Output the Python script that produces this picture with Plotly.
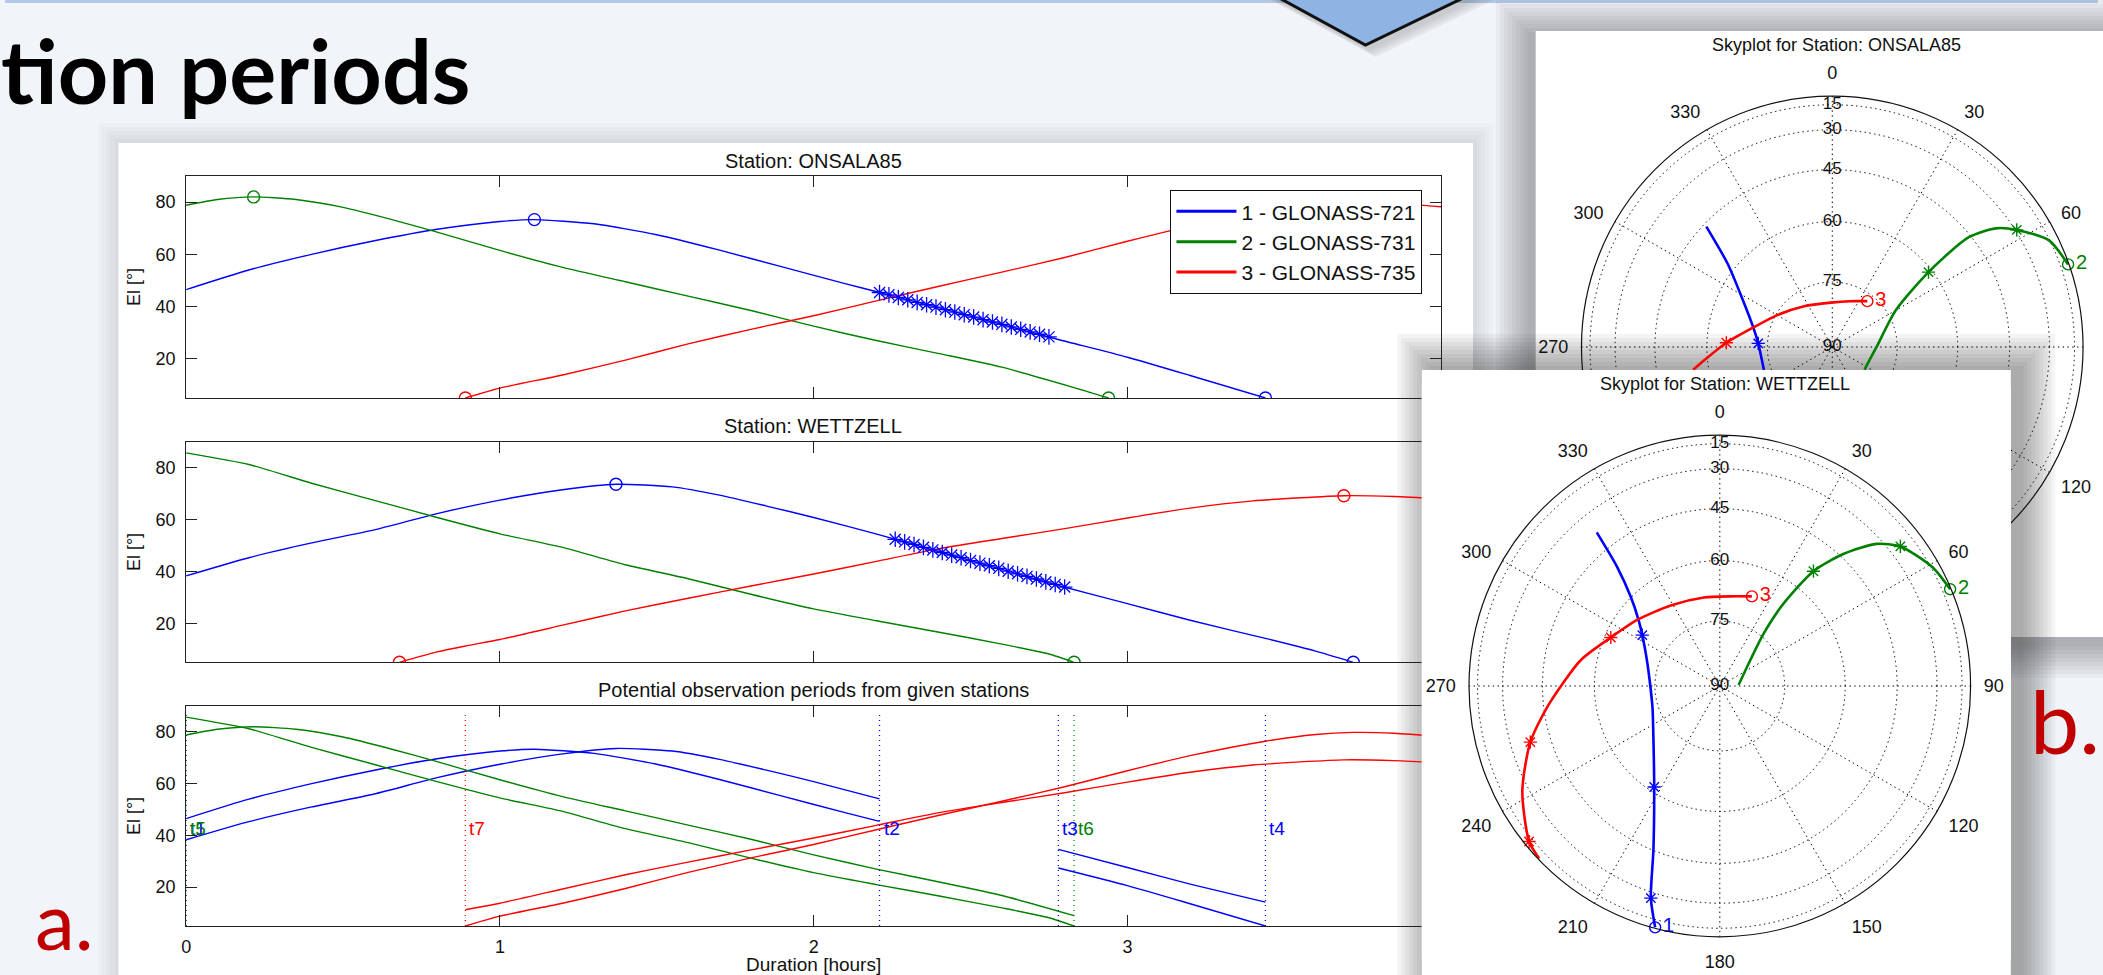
import math
import plotly.graph_objects as go

W, H = 2103, 975
FONT = "Liberation Sans, Arial, Helvetica, sans-serif"
SLIDE_FONT = "Lato, 'Open Sans', sans-serif"
BLUE, GREEN, RED = "#0000ff", "#008000", "#ff0000"
SAT_NAMES = ["1 - GLONASS-721", "2 - GLONASS-731", "3 - GLONASS-735"]

# ---------------- elevation profiles: hours since start / elevation [deg] ----------------
ONS_BLUE_T = [0.0, 0.2, 0.4, 0.6, 0.8, 1.0, 1.11, 1.3, 1.5, 1.7, 1.9, 2.1, 2.21, 2.4, 2.6, 2.78, 3.0, 3.2, 3.44]
ONS_BLUE_EL = [46.5, 54.0, 60.0, 65.2, 69.6, 72.6, 73.3, 71.7, 67.5, 61.6, 55.2, 48.8, 45.4, 39.5, 33.2, 27.4, 20.6, 13.6, 5.0]
ONS_GREEN_T = [0.0, 0.1, 0.215, 0.35, 0.5, 0.65, 0.8, 1.0, 1.2, 1.4, 1.6, 1.8, 2.0, 2.2, 2.4, 2.6, 2.83, 2.94]
ONS_GREEN_EL = [78.8, 81.0, 82.0, 81.0, 78.0, 73.5, 68.5, 61.5, 55.0, 49.5, 44.0, 38.5, 32.5, 27.0, 22.0, 16.8, 9.0, 5.0]
ONS_RED_T = [0.89, 1.0, 1.2, 1.4, 1.6, 1.8, 2.0, 2.2, 2.4, 2.6, 2.8, 3.0, 3.2, 3.44, 3.6, 3.72, 3.85, 4.0]
ONS_RED_EL = [5.0, 8.8, 13.8, 19.5, 25.7, 31.3, 36.5, 42.2, 47.8, 53.2, 58.8, 65.0, 70.8, 76.4, 79.0, 79.8, 79.5, 78.2]

WET_BLUE_T = [0.0, 0.2, 0.4, 0.6, 0.8, 1.0, 1.2, 1.37, 1.55, 1.7, 1.85, 2.0, 2.21, 2.4, 2.6, 2.78, 3.0, 3.2, 3.44, 3.6, 3.72]
WET_BLUE_EL = [38.3, 45.3, 51.0, 56.0, 62.3, 67.5, 71.5, 73.6, 72.6, 69.4, 65.2, 60.8, 54.1, 47.6, 40.8, 34.6, 27.6, 21.2, 14.2, 9.3, 5.0]
WET_GREEN_T = [0.0, 0.2, 0.4, 0.6, 0.8, 1.0, 1.2, 1.4, 1.6, 1.8, 2.0, 2.2, 2.4, 2.6, 2.75, 2.83]
WET_GREEN_EL = [85.7, 81.2, 74.0, 67.4, 60.8, 54.5, 49.3, 42.6, 37.2, 31.2, 25.6, 21.0, 16.6, 12.0, 8.2, 5.0]
WET_RED_T = [0.68, 0.8, 0.89, 1.0, 1.2, 1.4, 1.6, 1.8, 2.0, 2.2, 2.4, 2.6, 2.8, 3.0, 3.2, 3.4, 3.55, 3.69, 3.85, 4.0]
WET_RED_EL = [5.0, 9.0, 11.3, 13.8, 19.3, 24.8, 29.7, 34.4, 39.0, 43.9, 48.8, 52.7, 56.5, 60.6, 64.4, 67.2, 68.4, 69.2, 68.9, 68.0]

# rise / culmination / set epochs marked with circles [hours]
ONS_EVENTS = [[1.11, 3.44], [0.215, 2.94], [0.89, 3.72]]
WET_EVENTS = [[1.37, 3.72], [2.83], [0.68, 3.69]]

# scheduled scans on satellite 1 (asterisks)
ONS_SCAN_T = [2.21, 2.24, 2.27, 2.30, 2.33, 2.36, 2.39, 2.42, 2.45, 2.48, 2.51, 2.54, 2.57, 2.60, 2.63, 2.66, 2.69, 2.72, 2.75]
ONS_SCAN_EL = [45.4, 44.5, 43.5, 42.6, 41.6, 40.7, 39.8, 38.8, 37.9, 36.9, 36.0, 35.0, 34.1, 33.2, 32.2, 31.3, 30.3, 29.4, 28.4]
WET_SCAN_T = [2.26, 2.29, 2.32, 2.35, 2.38, 2.41, 2.44, 2.47, 2.50, 2.53, 2.56, 2.59, 2.62, 2.65, 2.68, 2.71, 2.74, 2.77, 2.80]
WET_SCAN_EL = [52.4, 51.4, 50.4, 49.3, 48.3, 47.3, 46.3, 45.3, 44.2, 43.2, 42.2, 41.2, 40.1, 39.1, 38.1, 37.1, 36.0, 35.0, 34.0]

# common observation windows per satellite [hours]
BLUE_WINDOWS = [(0.0, 2.21), (2.78, 3.44)]
GREEN_WINDOWS = [(0.0, 2.83)]
RED_WINDOWS = [(0.89, 4.0)]

# window boundary epochs
EPOCH_T = [0.0, 2.21, 2.78, 3.44, 0.0, 2.83, 0.89]
EPOCH_LABEL = ["t1", "t2", "t3", "t4", "t5", "t6", "t7"]
EPOCH_SAT = [0, 0, 0, 0, 1, 1, 2]

X_TICKS = [0, 1, 2, 3, 4]
Y_TICKS = [20, 40, 60, 80]

# ---------------- skyplot tracks: azimuth [deg] / elevation [deg] ----------------
WET_BLUE_AZ = [321.3, 319.2, 315.0, 309.0, 303.3, 287.3, 270.4, 251.8, 232.9, 213.0, 202.1, 198.0, 195.0]
WET_BLUE_ELS = [38.3, 51.3, 59.9, 65.4, 68.3, 72.4, 73.9, 73.6, 70.6, 61.3, 45.3, 27.2, 5.0]
WET_GREEN_AZ = [87.0, 49.6, 39.9, 37.7, 39.2, 43.1, 47.8, 52.3, 60.9, 67.2]
WET_GREEN_ELS = [85.7, 80.8, 74.2, 65.5, 53.8, 43.9, 32.5, 24.5, 13.6, 5.0]
WET_RED_AZ = [226.3, 230.8, 242.0, 253.5, 263.7, 280.6, 294.0, 308.9, 328.6, 349.8, 6.7, 19.7]
WET_RED_ELS = [5.0, 11.1, 26.9, 38.0, 46.6, 55.7, 61.6, 65.1, 67.9, 69.0, 68.9, 67.7]

ONS_BLUE_AZ = [313.7, 308.5, 297.6, 283.3, 272.8, 251.5]
ONS_BLUE_ELS = [46.0, 57.8, 66.3, 71.2, 72.8, 73.3]
ONS_GREEN_AZ = [125.1, 122.7, 89.6, 60.0, 52.1, 51.2, 54.0, 57.6, 63.8, 70.7]
ONS_GREEN_ELS = [80.9, 81.0, 79.8, 73.0, 60.9, 45.7, 36.4, 29.4, 15.6, 5.0]
ONS_RED_AZ = [260.7, 264.2, 272.3, 284.5, 300.1, 325.4, 358.2, 21.2, 37.4]
ONS_RED_ELS = [55.8, 59.2, 65.0, 71.3, 75.3, 78.6, 79.8, 78.7, 76.7]

# hourly marks along the tracks (azimuth, elevation)
WET_HOUR_AZ = [[303.3, 213.0, 198.0], [39.2, 52.3], [230.8, 253.5, 294.0]]
WET_HOUR_EL = [[68.3, 61.3, 27.2], [53.8, 24.5], [11.1, 38.0, 61.6]]
ONS_HOUR_AZ = [[272.8], [52.1, 57.6], [272.3]]
ONS_HOUR_EL = [[72.8], [60.9, 29.4], [65.0]]

RING_EL = [15, 30, 45, 60, 75, 90]
AZ_TICKS = [0, 30, 60, 90, 120, 150, 180, 210, 240, 270, 300, 330]
# azimuth labels of the ONSALA window that sit under the WETTZELL window or past the slide edge
ONS_HIDDEN_AZ = (90, 150, 180, 210, 240)


def fx(x):
    return x / W


def fy(y):
    return 1 - y / H


def zen(el):
    """Skyplot radius: projection of elevation onto the horizon plane."""
    return math.cos(math.radians(el))


fig = go.Figure()
COLORS = [BLUE, GREEN, RED]

# ---------------- elevation plots per station ----------------
stations = [
    ("x", "y", [(ONS_BLUE_T, ONS_BLUE_EL), (ONS_GREEN_T, ONS_GREEN_EL), (ONS_RED_T, ONS_RED_EL)],
     ONS_EVENTS, (ONS_SCAN_T, ONS_SCAN_EL)),
    ("x2", "y2", [(WET_BLUE_T, WET_BLUE_EL), (WET_GREEN_T, WET_GREEN_EL), (WET_RED_T, WET_RED_EL)],
     WET_EVENTS, (WET_SCAN_T, WET_SCAN_EL)),
]
for xa, ya, curves, events, scan in stations:
    for k, (T, EL) in enumerate(curves):
        fig.add_trace(go.Scatter(x=T, y=EL, mode="lines", line=dict(color=COLORS[k], width=1.4, shape="spline", smoothing=0.6),
                                 xaxis=xa, yaxis=ya, showlegend=False, hoverinfo="skip"))
        ev_y = [EL[T.index(t)] for t in events[k]]
        fig.add_trace(go.Scatter(x=events[k], y=ev_y, mode="markers",
                                 marker=dict(symbol="circle-open", size=12, color=COLORS[k], line=dict(width=1.4)),
                                 xaxis=xa, yaxis=ya, showlegend=False, hoverinfo="skip"))
    fig.add_trace(go.Scatter(x=scan[0], y=scan[1], mode="markers",
                             marker=dict(symbol="asterisk-open", size=13, color=BLUE, line=dict(width=1.3, color=BLUE)),
                             xaxis=xa, yaxis=ya, showlegend=False, hoverinfo="skip"))

# legend entries
for k in range(3):
    fig.add_trace(go.Scatter(x=[None], y=[None], mode="lines", line=dict(color=COLORS[k], width=3),
                             name=SAT_NAMES[k], xaxis="x", yaxis="y"))

# ---------------- common observation periods ----------------
sub3 = [
    ([(ONS_BLUE_T, ONS_BLUE_EL), (WET_BLUE_T, WET_BLUE_EL)], BLUE_WINDOWS),
    ([(ONS_GREEN_T, ONS_GREEN_EL), (WET_GREEN_T, WET_GREEN_EL)], GREEN_WINDOWS),
    ([(ONS_RED_T, ONS_RED_EL), (WET_RED_T, WET_RED_EL)], RED_WINDOWS),
]
for k, (pair, windows) in enumerate(sub3):
    for T, EL in pair:
        for a, b in windows:
            xs = [t for t in T if a <= t <= b]
            ys = [e for t, e in zip(T, EL) if a <= t <= b]
            fig.add_trace(go.Scatter(x=xs, y=ys, mode="lines", line=dict(color=COLORS[k], width=1.4, shape="spline", smoothing=0.6),
                                     xaxis="x3", yaxis="y3", showlegend=False, hoverinfo="skip"))

EPOCH_LINE_EL = (5, 87)
for t, lab, s in zip(EPOCH_T, EPOCH_LABEL, EPOCH_SAT):
    fig.add_trace(go.Scatter(x=[t, t], y=list(EPOCH_LINE_EL), mode="lines",
                             line=dict(color=COLORS[s], width=1.3, dash="1px,4px"),
                             xaxis="x3", yaxis="y3", showlegend=False, hoverinfo="skip"))

# ---------------- skyplots ----------------
sky = [
    ("polar", [(ONS_BLUE_AZ, ONS_BLUE_ELS), (ONS_GREEN_AZ, ONS_GREEN_ELS), (ONS_RED_AZ, ONS_RED_ELS)],
     ONS_HOUR_AZ, ONS_HOUR_EL, [False, True, True]),
    ("polar3", [(WET_BLUE_AZ, WET_BLUE_ELS), (WET_GREEN_AZ, WET_GREEN_ELS), (WET_RED_AZ, WET_RED_ELS)],
     WET_HOUR_AZ, WET_HOUR_EL, [True, True, True]),
]
for sp, tracks, haz, hel, ends in sky:
    for k, (AZ, EL) in enumerate(tracks):
        fig.add_trace(go.Scatterpolar(r=[zen(e) for e in EL], theta=AZ, mode="lines",
                                      line=dict(color=COLORS[k], width=2.6, shape="spline", smoothing=0.7),
                                      subplot=sp, showlegend=False, hoverinfo="skip"))
        fig.add_trace(go.Scatterpolar(r=[zen(e) for e in hel[k]], theta=haz[k], mode="markers",
                                      marker=dict(symbol="asterisk-open", size=11, color=COLORS[k], line=dict(width=1.4, color=COLORS[k])),
                                      subplot=sp, showlegend=False, hoverinfo="skip"))
        if ends[k]:
            fig.add_trace(go.Scatterpolar(r=[zen(EL[-1])], theta=[AZ[-1]], mode="markers+text", text=[str(k + 1)],
                                          textposition="middle right",
                                          textfont=dict(size=20, color=COLORS[k], family=FONT),
                                          marker=dict(symbol="circle-open", size=11, color=COLORS[k], line=dict(width=1.4)),
                                          subplot=sp, showlegend=False, hoverinfo="skip"))
    fig.add_trace(go.Scatterpolar(r=[zen(e) for e in RING_EL], theta=[0] * len(RING_EL), mode="text",
                                  text=[str(e) for e in RING_EL], textfont=dict(size=17, color="#111", family=FONT),
                                  subplot=sp, showlegend=False, hoverinfo="skip"))

# white sheet of the WETTZELL window, stacked over the ONSALA window
PANEL_W = (1425, 370, 2014, 975)
occ_cx, occ_cy = (PANEL_W[0] + PANEL_W[2]) / 2, (PANEL_W[1] + PANEL_W[3]) / 2
occ_R = min(PANEL_W[2] - PANEL_W[0], PANEL_W[3] - PANEL_W[1]) / 2
side = PANEL_W[2] - PANEL_W[0]
sq_centres = [(occ_cx, PANEL_W[1] + side / 2), (occ_cx, PANEL_W[3] - side / 2)]
occ_r, occ_t = [], []
for cx, cy in sq_centres:
    dx, dy = cx - occ_cx, occ_cy - cy
    occ_r.append(math.hypot(dx, dy) / occ_R)
    occ_t.append(math.degrees(math.atan2(dy, dx)))
fig.add_trace(go.Scatterpolar(r=occ_r, theta=occ_t, mode="markers", cliponaxis=False,
                              marker=dict(symbol="square", size=side, color="white", line=dict(width=0)),
                              subplot="polar2", showlegend=False, hoverinfo="skip"))

# ---------------- layout ----------------
def rect(x0, y0, x1, y1, color):
    return dict(type="rect", xref="paper", yref="paper", x0=fx(x0), x1=fx(x1), y0=fy(y1), y1=fy(y0),
                fillcolor=color, line=dict(width=0), layer="below")


def shadow(box, dx, dy, spreads, alpha):
    x0, y0, x1, y1 = box
    return [rect(x0 + dx - e, y0 + dy - e, x1 + dx + e, y1 + dy + e, f"rgba(40,40,40,{alpha})") for e in spreads]


PANEL_A = (114, 143, 1475, 990)
PANEL_O = (1538, 31, 2120, 637)

shapes = []
shapes.append(rect(0, 0, W, 3, "#b3c8e4"))
# arrow tip at the top
chev = [(1262, -12), (1486, -12), (1367, 45)]
def path(pts, ox=0, oy=0):
    return "M " + " L ".join(f"{fx(x + ox):.5f},{fy(y + oy):.5f}" for x, y in pts) + " Z"
for i, a in enumerate([0.05, 0.05, 0.06, 0.07]):
    shapes.append(dict(type="path", xref="paper", yref="paper", path=path(chev, 4 + 2 * i, 6 + 2 * i),
                       fillcolor=f"rgba(60,60,60,{a})", line=dict(width=0), layer="below"))
shapes.append(dict(type="path", xref="paper", yref="paper", path=path(chev), fillcolor="#8eb4e3",
                   line=dict(color="#111", width=3), layer="below"))
shapes += shadow(PANEL_A, 0, 0, [20, 16, 12, 8, 4], 0.022)
shapes.append(rect(*PANEL_A, "white"))
shapes += shadow(PANEL_O, -4, 5, [36, 32, 28, 24, 20, 16, 12, 8, 4], 0.045)
shapes.append(rect(*PANEL_O, "white"))
shapes += shadow((1425, 370, 2014, 990), 10, 0, [36, 32, 28, 24, 20, 16, 12, 8, 4], 0.05)

ax_common = dict(showline=True, mirror="allticks", linecolor="#222", linewidth=1.2, ticks="inside",
                 ticklen=11, tickwidth=1.2, tickcolor="#222", showgrid=False, zeroline=False,
                 tickfont=dict(size=18, color="#111", family=FONT))

sub_rows = [(176, 398), (441.7, 662.3), (706, 926)]
layout = dict(width=W, height=H, margin=dict(l=0, r=0, t=0, b=0),
              paper_bgcolor="#f1f4f9", plot_bgcolor="white", shapes=shapes,
              showlegend=True,
              legend=dict(x=fx(1424), y=fy(190), xanchor="right", yanchor="top", bgcolor="white",
                          bordercolor="#111", borderwidth=1.2, font=dict(size=21, color="#111", family=FONT),
                          itemwidth=60, tracegroupgap=0))
for i, (top, bot) in enumerate(sub_rows):
    sx = "" if i == 0 else str(i + 1)
    xa = dict(ax_common, domain=[fx(182), fx(1443)], range=[0, 4], tickvals=X_TICKS,
              anchor="y" + sx, showticklabels=(i == 2), ticklabelstandoff=4)
    if i == 2:
        xa["title"] = dict(text="Duration [hours]", font=dict(size=19, color="#111", family=FONT), standoff=2)
    ya = dict(ax_common, domain=[fy(bot), fy(top)], range=[5, 90], tickvals=Y_TICKS, anchor="x" + sx,
              ticklabelstandoff=6,
              title=dict(text="El [°]", font=dict(size=18, color="#111", family=FONT), standoff=10))
    layout["xaxis" + sx] = xa
    layout["yaxis" + sx] = ya


def sky_polar(cx, cy, R, hidden=()):
    return dict(domain=dict(x=[fx(cx - R), fx(cx + R)], y=[fy(cy + R), fy(cy - R)]),
                bgcolor="rgba(0,0,0,0)",
                radialaxis=dict(range=[0, 1], tickvals=[zen(e) for e in RING_EL[:-1]], showticklabels=False,
                                ticks="", showline=False, showgrid=True, gridcolor="#000",
                                griddash="1.4px,3.4px", gridwidth=1.3),
                angularaxis=dict(rotation=90, direction="clockwise", tickvals=AZ_TICKS,
                                 ticktext=["" if a in hidden else str(a) for a in AZ_TICKS], showgrid=True,
                                 gridcolor="#000", griddash="1.4px,3.4px", gridwidth=1.3,
                                 showline=True, linecolor="#111", linewidth=1.2,
                                 ticks="outside", ticklen=9, tickcolor="rgba(0,0,0,0)",
                                 tickfont=dict(size=18, color="#111", family=FONT)))


layout["polar"] = sky_polar(1836, 347, 252, hidden=ONS_HIDDEN_AZ)
layout["polar3"] = sky_polar(1723, 686, 252)
layout["polar2"] = dict(domain=dict(x=[fx(PANEL_W[0]), fx(PANEL_W[2])], y=[fy(PANEL_W[3]), fy(PANEL_W[1])]),
                        bgcolor="rgba(0,0,0,0)", radialaxis=dict(visible=False, range=[0, 1]),
                        angularaxis=dict(visible=False))

ann = []
def text(x, y, s, size, color="#111", family=FONT, xanchor="center", yanchor="middle", **kw):
    ann.append(dict(x=fx(x), y=fy(y), xref="paper", yref="paper", text=s, showarrow=False,
                    font=dict(size=size, color=color, family=family), xanchor=xanchor, yanchor=yanchor, **kw))

text(812, 161, "Station: ONSALA85", 20)
text(812, 426, "Station: WETTZELL", 20)
text(812, 690, "Potential observation periods from given stations", 20)
text(1840, 45, "Skyplot for Station: ONSALA85", 18)
text(1728, 384, "Skyplot for Station: WETTZELL", 18)
text(470, 70, "<b>tion periods</b>", 88, color="#000", family=SLIDE_FONT, xanchor="right")
text(28, 919, "a.", 80, color="#c00000", family=SLIDE_FONT, xanchor="left")
text(2033, 720, "b.", 88, color="#c00000", family=SLIDE_FONT, xanchor="left")
layout["annotations"] = ann

LABEL_EL = 42.5
for t, lab, s in zip(EPOCH_T, EPOCH_LABEL, EPOCH_SAT):
    ann.append(dict(x=t, y=LABEL_EL, xref="x3", yref="y3", text=lab, showarrow=False, xanchor="left",
                    xshift=2, font=dict(size=19, color=COLORS[s], family=FONT)))

fig.update_layout(**layout)
fig.write_html("out.html")
